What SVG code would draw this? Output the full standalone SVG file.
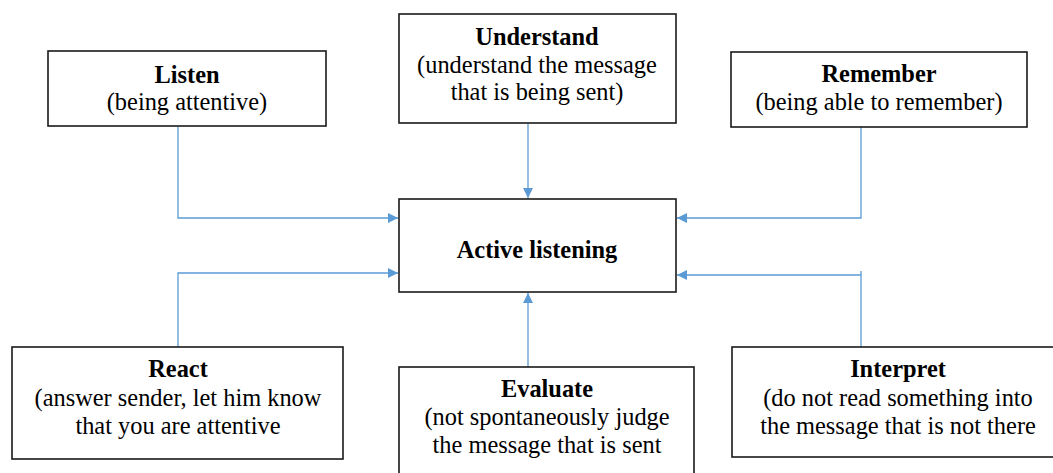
<svg xmlns="http://www.w3.org/2000/svg" width="1053" height="473" viewBox="0 0 1053 473">
  <style>
    .box { fill: #ffffff; stroke: #1a1a1a; stroke-width: 1.6; }
    .title { font-family: "Liberation Serif", "Times New Roman", serif; font-size: 24.4px; font-weight: bold; fill: #000; text-anchor: middle; }
    .desc { font-family: "Liberation Serif", "Times New Roman", serif; font-size: 24.4px; fill: #000; text-anchor: middle; }
    .link { fill: none; stroke: #5b9bd5; stroke-width: 1.3; }
  </style>
  <defs>
    <marker id="arrow" viewBox="0 0 10 10" refX="10" refY="5" markerWidth="11" markerHeight="10" markerUnits="userSpaceOnUse" orient="auto">
      <path d="M0,0 L10,5 L0,10 Z" fill="#5b9bd5"/>
    </marker>
  </defs>
  <rect width="1053" height="473" fill="#ffffff"/>

  <g id="connectors">
    <path class="link" d="M178,127 V218 H398" marker-end="url(#arrow)"/>
    <path class="link" d="M528,124 V198" marker-end="url(#arrow)"/>
    <path class="link" d="M861,127 V218 H677" marker-end="url(#arrow)"/>
    <path class="link" d="M178,347 V273 H398" marker-end="url(#arrow)"/>
    <path class="link" d="M528,367 V293" marker-end="url(#arrow)"/>
    <path class="link" d="M861,347 V275 H677" marker-end="url(#arrow)"/>
    <path class="link" d="M861,275 V271"/>
  </g>

  <g id="listen">
    <rect class="box" x="48" y="51" width="278" height="75"/>
    <text class="title" x="187" y="83">Listen</text>
    <text class="desc" x="187" y="110">(being attentive)</text>
  </g>

  <g id="understand">
    <rect class="box" x="399" y="14" width="277" height="109"/>
    <text class="title" x="537" y="45">Understand</text>
    <text class="desc" x="537" y="73">(understand the message</text>
    <text class="desc" x="537" y="100">that is being sent)</text>
  </g>

  <g id="remember">
    <rect class="box" x="731" y="52" width="296" height="75"/>
    <text class="title" x="879" y="82">Remember</text>
    <text class="desc" x="879" y="110">(being able to remember)</text>
  </g>

  <g id="active-listening">
    <rect class="box" x="399" y="199" width="277" height="93"/>
    <text class="title" x="537" y="258">Active listening</text>
  </g>

  <g id="react">
    <rect class="box" x="12" y="347" width="331" height="112"/>
    <text class="title" x="178" y="377">React</text>
    <text class="desc" x="178" y="406">(answer sender, let him know</text>
    <text class="desc" x="178" y="434">that you are attentive</text>
  </g>

  <g id="evaluate">
    <rect class="box" x="399" y="367" width="295" height="120"/>
    <text class="title" x="547" y="397">Evaluate</text>
    <text class="desc" x="547" y="425">(not spontaneously judge</text>
    <text class="desc" x="547" y="453">the message that is sent</text>
  </g>

  <g id="interpret">
    <rect class="box" x="732" y="347" width="332" height="110"/>
    <text class="title" x="898" y="377">Interpret</text>
    <text class="desc" x="898" y="406">(do not read something into</text>
    <text class="desc" x="898" y="434">the message that is not there</text>
  </g>
</svg>
